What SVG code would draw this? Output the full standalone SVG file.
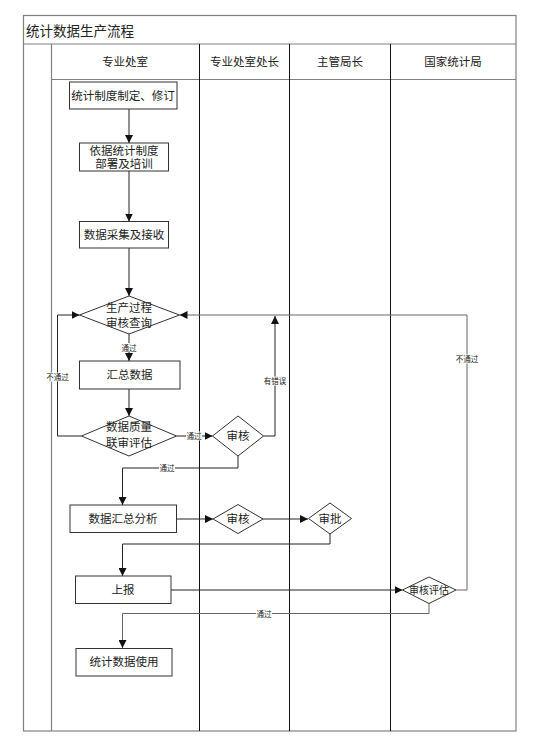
<svg xmlns="http://www.w3.org/2000/svg" width="537" height="747" viewBox="0 0 537 747">
<style>
text{font-family:"Liberation Serif","Noto Sans CJK SC",serif;fill:#222}
.frame{fill:none;stroke:#808080;stroke-width:1.2}
.lane{stroke:#111;stroke-width:1}
.box{fill:#fff;stroke:#333;stroke-width:1}
.t{font-size:11.5px;text-anchor:middle}
.hd{font-size:11.5px;text-anchor:middle}
.c{fill:none;stroke:#222;stroke-width:1}
.g{fill:none;stroke:#666;stroke-width:1}
.lb{font-size:7.5px;text-anchor:middle}
.bg{fill:#fff}
</style>
<defs>
<marker id="ah" viewBox="0 0 8 8" refX="8" refY="4" markerWidth="8" markerHeight="8" markerUnits="userSpaceOnUse" orient="auto">
<path d="M0,0 L8,4 L0,8 z" fill="#111"/>
</marker>
</defs>
<rect width="537" height="747" fill="#fff"/>
<g id="frame">
<rect class="frame" x="23.5" y="15.5" width="492.5" height="715.5"/>
<line class="frame" x1="23.5" y1="44" x2="516" y2="44"/>
<line class="frame" x1="51.5" y1="79.5" x2="516" y2="79.5"/>
<line class="frame" x1="51.5" y1="44" x2="51.5" y2="731"/>
<line class="lane" x1="199.5" y1="44" x2="199.5" y2="731"/>
<line class="lane" x1="289.5" y1="44" x2="289.5" y2="731"/>
<line class="lane" x1="390.5" y1="44" x2="390.5" y2="731"/>
<text x="26" y="36" style="font-size:13.5px">统计数据生产流程</text>
<text class="hd" x="125" y="66">专业处室</text>
<text class="hd" x="244.5" y="66">专业处室处长</text>
<text class="hd" x="340" y="66">主管局长</text>
<text class="hd" x="453" y="66">国家统计局</text>
</g>
<g id="connectors">
<path class="c" d="M129,109 V143" marker-end="url(#ah)"/>
<path class="c" d="M129,171 V221.5" marker-end="url(#ah)"/>
<path class="c" d="M129,248 V296" marker-end="url(#ah)"/>
<path class="c" d="M129,334 V361" marker-end="url(#ah)"/>
<path class="c" d="M129,389 V416" marker-end="url(#ah)"/>
<path class="c" d="M81.5,436 H57.5 V315 H79.5" marker-end="url(#ah)"/>
<path class="c" d="M176.5,436 H212.5" marker-end="url(#ah)"/>
<path class="c" d="M263.5,436 H275 V316" marker-end="url(#ah)"/>
<path class="c" d="M238,456 V468 H122.5 V505" marker-end="url(#ah)"/>
<path class="c" d="M176.5,519 H213" marker-end="url(#ah)"/>
<path class="c" d="M263,519 H308" marker-end="url(#ah)"/>
<path class="c" d="M330,534 V544 H122.5 V576" marker-end="url(#ah)"/>
<path class="c" d="M171,590 H402.5" marker-end="url(#ah)"/>
<path class="g" d="M456,590 H467 V315 H179.5" marker-end="url(#ah)"/>
<path class="g" d="M429,603 V613.5 H122.5 V648" marker-end="url(#ah)"/>
<rect class="bg" x="121" y="343" width="16" height="9"/>
<text class="lb" x="129" y="350.5">通过</text>
<rect class="bg" x="46" y="372.5" width="23" height="9"/>
<text class="lb" x="57.5" y="380">不通过</text>
<rect class="bg" x="186" y="431.5" width="16" height="9"/>
<text class="lb" x="194" y="439">通过</text>
<rect class="bg" x="263.5" y="376.5" width="23" height="9"/>
<text class="lb" x="275" y="384">有错误</text>
<rect class="bg" x="159" y="463.5" width="16" height="9"/>
<text class="lb" x="167" y="471">通过</text>
<rect class="bg" x="455.5" y="354.5" width="23" height="9"/>
<text class="lb" x="467" y="362">不通过</text>
<rect class="bg" x="256" y="609" width="16" height="9"/>
<text class="lb" x="264" y="616.5">通过</text>
</g>
<g id="n1"><rect class="box" x="69.5" y="82" width="107.5" height="27"/><text class="t" x="123" y="99.5">统计制度制定、修订</text></g>
<g id="n2"><rect class="box" x="79.5" y="143" width="89" height="28"/><text class="t" x="124" y="155">依据统计制度</text><text class="t" x="124" y="168">部署及培训</text></g>
<g id="n3"><rect class="box" x="79.5" y="221.5" width="89" height="26.5"/><text class="t" x="124" y="239">数据采集及接收</text></g>
<g id="n4"><polygon class="box" points="129,296 179.5,315 129,334 79.5,315"/><text class="t" x="129" y="312">生产过程</text><text class="t" x="129" y="326.5">审核查询</text></g>
<g id="n5"><rect class="box" x="79.5" y="361" width="100.5" height="28"/><text class="t" x="129.5" y="379">汇总数据</text></g>
<g id="n6"><polygon class="box" points="129,416 176.5,436 129,456 81.5,436"/><text class="t" x="129" y="431">数据质量</text><text class="t" x="129" y="447">联审评估</text></g>
<g id="n7"><polygon class="box" points="238,416 263.5,436 238,456 212.5,436"/><text class="t" x="238" y="440">审核</text></g>
<g id="n8"><rect class="box" x="70" y="505" width="106.5" height="27.5"/><text class="t" x="123" y="523">数据汇总分析</text></g>
<g id="n9"><polygon class="box" points="238,504.5 263,519 238,533.5 213,519"/><text class="t" x="238" y="523">审核</text></g>
<g id="n10"><polygon class="box" points="330,503 351.5,518.5 330,534 308.5,518.5"/><text class="t" x="330" y="522.5">审批</text></g>
<g id="n11"><rect class="box" x="75.5" y="576" width="95.5" height="27.5"/><text class="t" x="123" y="594">上报</text></g>
<g id="n12"><polygon class="box" points="429,577 456,590 429,603.5 402.5,590"/><text class="t" x="429" y="593.5" style="font-size:10px">审核评估</text></g>
<g id="n13"><rect class="box" x="76" y="648.5" width="96" height="27.5"/><text class="t" x="124" y="666">统计数据使用</text></g>
</svg>
